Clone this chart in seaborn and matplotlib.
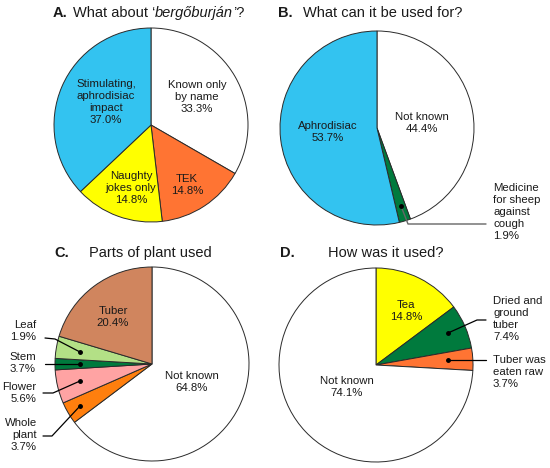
import matplotlib
matplotlib.use("Agg")
import matplotlib.pyplot as plt
import seaborn as sns

sns.set_theme(style="white")
plt.rcParams['font.family'] = ['Liberation Sans', 'DejaVu Sans']

W, H = 550, 468

# ---------------- data ----------------
a_labels = ["Known only\nby name", "TEK", "Naughty\njokes only", "Stimulating,\naphrodisiac\nimpact"]
a_values = [33.3, 14.8, 14.8, 37.0]
a_colors = ["#FFFFFF", "#FF7433", "#FFFF00", "#33C3F0"]

b_labels = ["Not known", "Medicine\nfor sheep\nagainst\ncough", "Aphrodisiac"]
b_values = [44.4, 1.9, 53.7]
b_colors = ["#FFFFFF", "#007A3D", "#33C3F0"]

c_labels = ["Not known", "Whole\nplant", "Flower", "Stem", "Leaf", "Tuber"]
c_values = [64.8, 3.7, 5.6, 1.9, 3.7, 20.4]          # wedge sizes as drawn
c_shown = [64.8, 3.7, 5.6, 3.7, 1.9, 20.4]           # percentages as printed
c_colors = ["#FFFFFF", "#FF7F0E", "#FFA3A3", "#007A3D", "#B3E086", "#D0855E"]

d_labels = ["Tea", "Dried and\nground\ntuber", "Tuber was\neaten raw", "Not known"]
d_values = [14.8, 7.4, 3.7, 74.1]
d_colors = ["#FFFF00", "#007A3D", "#FF7433", "#FFFFFF"]

# ---------------- figure ----------------
fig = plt.figure(figsize=(5.5, 4.68), dpi=100)
ax = fig.add_axes([0, 0, 1, 1])

def Y(y):
    return H - y

R = 97
wp = dict(edgecolor="#2a2a2a", linewidth=0.7)

def draw_pie(values, colors, center):
    ax.pie(values, colors=colors, center=(center[0], Y(center[1])), radius=R,
           startangle=90, counterclock=False, wedgeprops=wp, frame=True)

draw_pie(a_values, a_colors, (151, 125))
draw_pie(b_values, b_colors, (377, 128))
draw_pie(c_values, c_colors, (152, 364))
draw_pie(d_values, d_colors, (376, 365))

ax.set_xlim(0, W)
ax.set_ylim(0, H)
ax.set_aspect('equal')
ax.axis('off')

FS = 8.2
LS = 1.22

def label(x, y, text, ha='center', va='center', color='#1a1a1a'):
    ax.text(x, Y(y), text, ha=ha, va=va, fontsize=FS, linespacing=LS,
            color=color, multialignment=ha if ha != 'center' else 'center')

def pct(lab, v):
    return f"{lab}\n{v:.1f}%"

# A inside labels
a_pos = [(197, 97), (187, 185), (131, 188), (106, 102)]
for lab, v, p in zip(a_labels, a_values, a_pos):
    label(p[0], p[1], pct(lab, v))

# B labels
label(422, 123, pct(b_labels[0], b_values[0]))
label(328, 132, pct(b_labels[2], b_values[2]))
label(493, 212, pct(b_labels[1], b_values[1]), ha='left')
ax.plot([401, 408, 486], [Y(206), Y(224), Y(224)], color="#666666", lw=1.0)
ax.plot([401], [Y(206)], 'o', color='black', ms=2.5)

# C labels
label(113, 317, pct(c_labels[5], c_shown[5]))
label(192, 382, pct(c_labels[0], c_shown[0]))
c_out = {
    4: ((36, 331), [(45, 338), (55, 339), (80, 352)]),
    3: ((36, 363), [(45, 364), (80, 364)]),
    2: ((36, 393), [(43, 393), (53, 393), (80, 381)]),
    1: ((37, 435), [(43, 436), (52, 436), (80, 406)]),
}
for i, (tp, pts) in c_out.items():
    label(tp[0], tp[1], pct(c_labels[i], c_shown[i]), ha='right')
    ax.plot([p[0] for p in pts], [Y(p[1]) for p in pts], color='black', lw=0.9)
    ax.plot([pts[-1][0]], [Y(pts[-1][1])], 'o', color='black', ms=2.5)

# D labels
label(406, 311, pct(d_labels[0], d_values[0]))
label(347, 387, pct(d_labels[3], d_values[3]))
label(493, 319, pct(d_labels[1], d_values[1]), ha='left')
ax.plot([448, 477, 486], [Y(333), Y(320), Y(320)], color='black', lw=0.9)
ax.plot([448], [Y(333)], 'o', color='black', ms=2.5)
label(493, 372, pct(d_labels[2], d_values[2]), ha='left')
ax.plot([448, 486], [Y(360), Y(360)], color='black', lw=0.9)
ax.plot([448], [Y(360)], 'o', color='black', ms=2.5)

# ---------------- titles ----------------
TFS = 10.5
renderer = fig.canvas.get_renderer()

def rich(x, y, parts):
    for s, kw in parts:
        t = ax.text(x, Y(y), s, fontsize=TFS, ha='left', va='baseline',
                    color='#1a1a1a', **kw)
        bb = t.get_window_extent(renderer=renderer)
        x += bb.width

ax.text(53, Y(17), "A.", fontsize=TFS, fontweight='bold', va='baseline', color='#1a1a1a')
rich(73, 17, [("What about \u2018", {}), ("bergőburján", {"fontstyle": "italic"}), ("\u2019?", {})])
ax.text(278, Y(17), "B.", fontsize=TFS, fontweight='bold', va='baseline', color='#1a1a1a')
ax.text(303, Y(17), "What can it be used for?", fontsize=TFS, va='baseline', color='#1a1a1a')
ax.text(54, Y(257), "C.", fontsize=TFS, fontweight='bold', va='baseline', color='#1a1a1a')
ax.text(89, Y(257), "Parts of plant used", fontsize=TFS, va='baseline', color='#1a1a1a')
ax.text(280, Y(257), "D.", fontsize=TFS, fontweight='bold', va='baseline', color='#1a1a1a')
ax.text(328, Y(257), "How was it used?", fontsize=TFS, va='baseline', color='#1a1a1a')

fig.savefig("out.png", dpi=100, facecolor='white')
